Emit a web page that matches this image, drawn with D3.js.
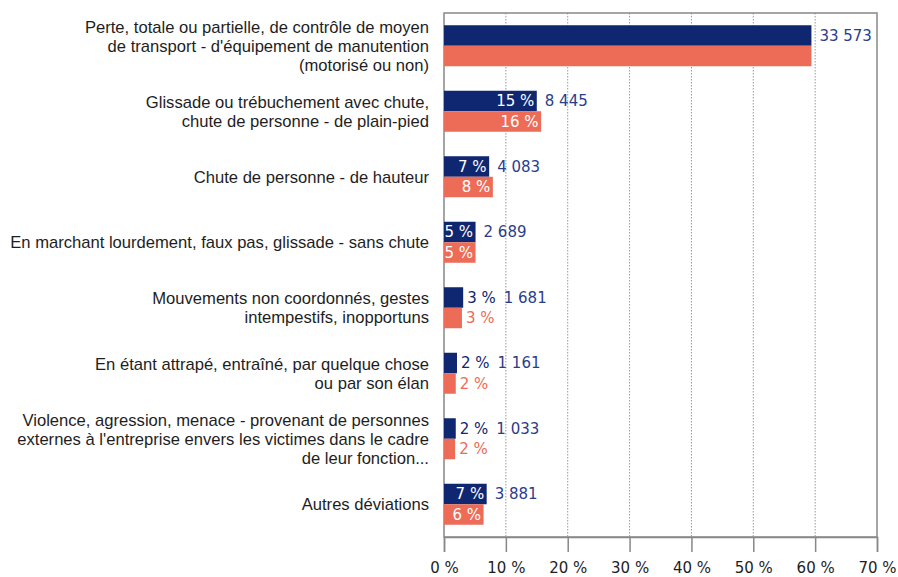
<!DOCTYPE html>
<html lang="fr">
<head>
<meta charset="UTF-8">
<title>Déviations</title>
<script src="https://d3js.org/d3.v7.min.js"></script>
<style>
  body { margin: 0; background: #fff; }
  text { font-family: "Liberation Sans", Arial, sans-serif; }
  .num { font-family: "DejaVu Sans", sans-serif; }
</style>
</head>
<body>
<svg id="main" width="898" height="577"></svg>
<script>
// categories (lines of each label)
const categories = [
  ["Perte, totale ou partielle, de contrôle de moyen", "de transport - d'équipement de manutention", "(motorisé ou non)"],
  ["Glissade ou trébuchement avec chute,", "chute de personne - de plain-pied"],
  ["Chute de personne - de hauteur"],
  ["En marchant lourdement, faux pas, glissade - sans chute"],
  ["Mouvements non coordonnés, gestes", "intempestifs, inopportuns"],
  ["En étant attrapé, entraîné, par quelque chose", "ou par son élan"],
  ["Violence, agression, menace - provenant de personnes", "externes à l'entreprise envers les victimes dans le cadre", "de leur fonction..."],
  ["Autres déviations"]
];
const navyPct = [59.4, 15.0, 7.3, 5.1, 3.1, 2.1, 1.9, 6.9];
const orangePct = [59.4, 15.7, 7.9, 5.1, 2.9, 1.9, 1.8, 6.4];
const navyLabels = [null, "15 %", "7 %", "5 %", "3 %", "2 %", "2 %", "7 %"];
const orangeLabels = [null, "16 %", "8 %", "5 %", "3 %", "2 %", "2 %", "6 %"];
const counts = ["33 573", "8 445", "4 083", "2 689", "1 681", "1 161", "1 033", "3 881"];
const xTicks = [0, 10, 20, 30, 40, 50, 60, 70];

const navy = "#0f2670", orange = "#ec6c57", countColor = "#2a3d8d";

const svg = d3.select("svg#main");
const mLeft = 444, mRight = 877, mTop = 13, mBottom = 537;

const x = d3.scaleLinear().domain([0, 70]).range([mLeft, mRight]);
const y = d3.scaleBand().domain(d3.range(categories.length))
  .range([mTop, mBottom]).paddingInner(0.374).paddingOuter(0.187);
const half = y.bandwidth() / 2;

// gridlines
svg.append("g").selectAll("line")
  .data(xTicks.filter(t => t > 0 && t < 70))
  .enter().append("line")
  .attr("x1", d => x(d)).attr("x2", d => x(d))
  .attr("y1", mTop).attr("y2", mBottom)
  .attr("stroke", "#999").attr("stroke-dasharray", "1.5,1.5");

// frame
svg.append("rect")
  .attr("x", mLeft).attr("y", mTop)
  .attr("width", mRight - mLeft).attr("height", mBottom - mTop)
  .attr("fill", "none").attr("stroke", "#888").attr("stroke-width", 1.5);

// x axis
const xAxis = svg.append("g")
  .attr("transform", `translate(0,${mBottom})`)
  .call(d3.axisBottom(x).tickValues(xTicks).tickSize(15).tickFormat(d => d + " %"));
xAxis.select(".domain").attr("stroke", "#888").attr("stroke-width", 1.5);
xAxis.selectAll(".tick line").attr("stroke", "#888").attr("stroke-width", 1.5);
xAxis.selectAll(".tick text").attr("class", "num").attr("font-size", 15).attr("fill", "#1e1e1e")
  .attr("font-family", null).attr("dy", "1.2em");

// bars
const series = [
  { vals: navyPct, labels: navyLabels, color: navy, off: 0 },
  { vals: orangePct, labels: orangeLabels, color: orange, off: half }
];
const labelEnds = categories.map(() => 0);

series.forEach(s => {
  s.vals.forEach((v, i) => {
    const y0 = y(i) + s.off;
    svg.append("rect")
      .attr("x", x(0)).attr("y", y0)
      .attr("width", x(v) - x(0)).attr("height", half)
      .attr("fill", s.color);
    const lab = s.labels[i];
    if (!lab) { return; }
    const t = svg.append("text")
      .attr("class", "num")
      .attr("y", y0 + half / 2).attr("dy", "0.36em")
      .attr("font-size", 15)
      .text(lab);
    const w = t.node().getComputedTextLength();
    if (x(v) - x(0) >= w + 2) {
      t.attr("x", x(v) - 2.5).attr("text-anchor", "end").attr("fill", "#fff");
      if (s.off === 0) labelEnds[i] = x(v);
    } else {
      t.attr("x", x(v) + 4).attr("fill", s.color);
      if (s.off === 0) labelEnds[i] = x(v) + 4 + w;
    }
  });
});

// counts
counts.forEach((c, i) => {
  const ex = Math.max(labelEnds[i], x(navyPct[i]));
  svg.append("text")
    .attr("class", "num")
    .attr("x", ex + 8).attr("y", y(i) + half / 2).attr("dy", "0.36em")
    .attr("font-size", 15).attr("fill", countColor)
    .text(c);
});

// category labels
const lineH = 19;
categories.forEach((lines, i) => {
  const cy = y(i) + y.bandwidth() / 2;
  const t = svg.append("text")
    .attr("text-anchor", "end").attr("font-size", 16.6).attr("fill", "#1e1e1e");
  lines.forEach((l, k) => {
    t.append("tspan")
      .attr("x", 429)
      .attr("y", cy + (k - (lines.length - 1) / 2) * lineH)
      .attr("dy", "0.35em")
      .text(l);
  });
});
</script>
</body>
</html>
